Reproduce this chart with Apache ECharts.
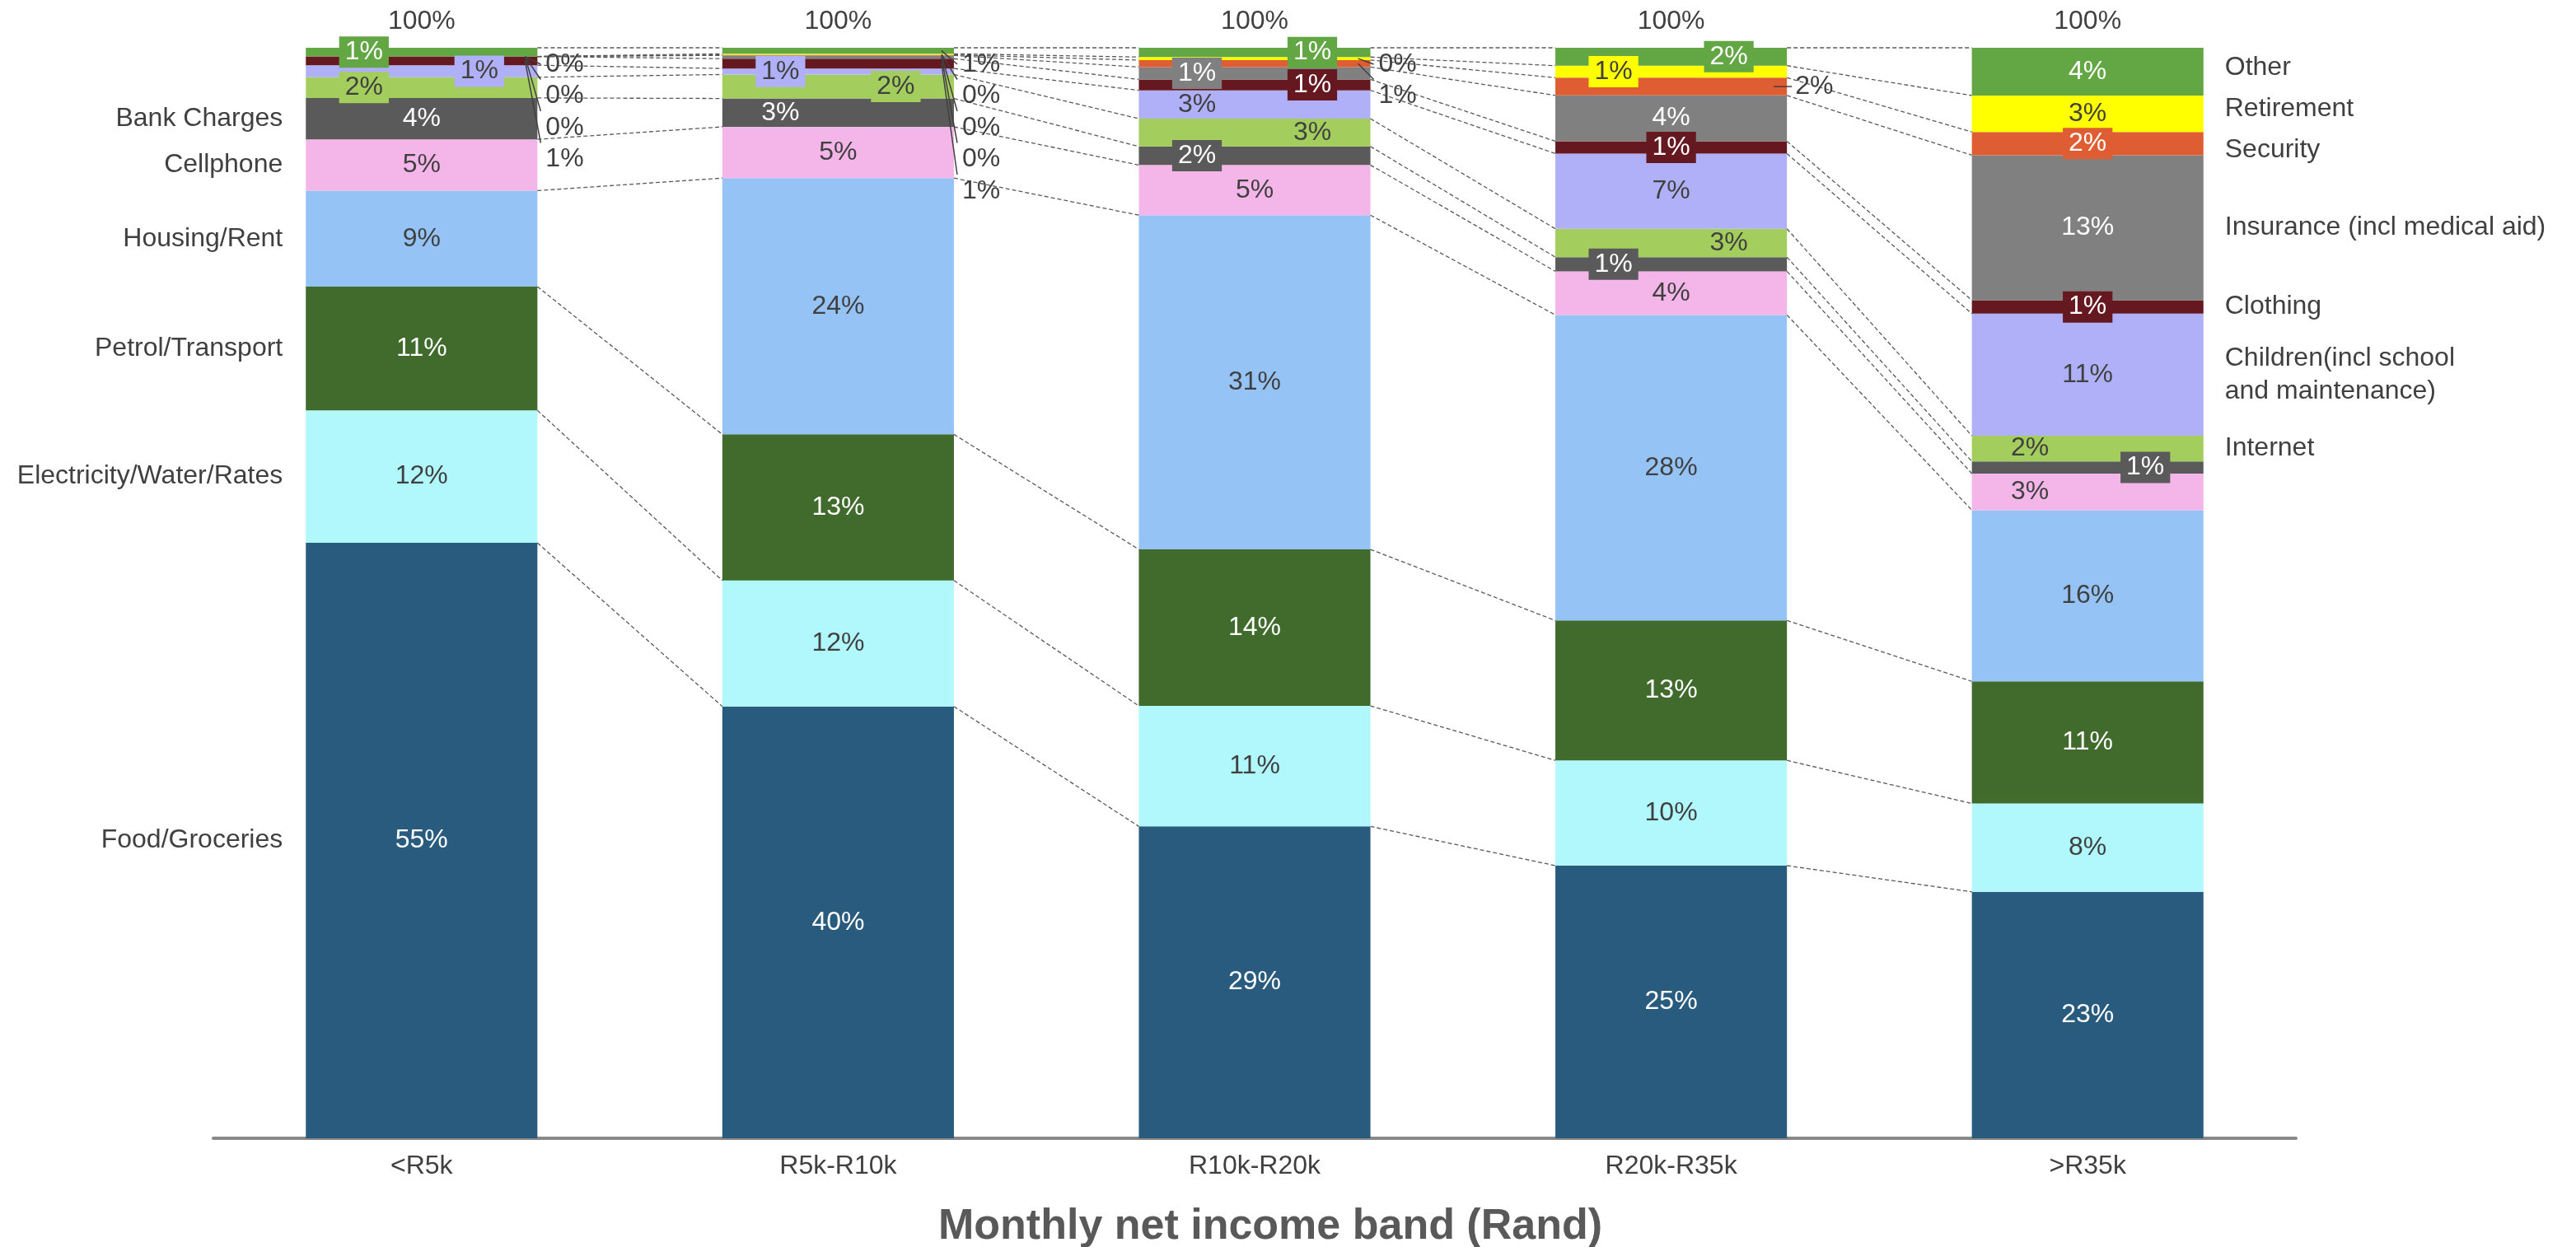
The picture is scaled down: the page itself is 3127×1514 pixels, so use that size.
<!DOCTYPE html>
<html><head><meta charset="utf-8">
<script src="https://cdn.jsdelivr.net/npm/echarts@6/dist/echarts.min.js"></script>
<style>html,body{margin:0;padding:0;background:#fff}#c{width:3127px;height:1514px}</style>
</head><body><div id="c"></div>
<script>
// ---------- data ----------
const categories = ['<R5k', 'R5k-R10k', 'R10k-R20k', 'R20k-R35k', '>R35k'];
const seriesNames = ['Food/Groceries', 'Electricity/Water/Rates', 'Petrol/Transport', 'Housing/Rent',
  'Cellphone', 'Bank Charges', 'Internet', 'Children(incl school\nand maintenance)', 'Clothing',
  'Insurance (incl medical aid)', 'Security', 'Retirement', 'Other'];
const food        = [54.6, 39.6, 28.6, 25.0, 22.6];
const electricity = [12.15, 11.55, 11.05, 9.65, 8.1];
const petrol      = [11.35, 13.4, 14.35, 12.83, 11.2];
const housing     = [8.8, 23.5, 30.65, 28.02, 15.7];
const cellphone   = [4.7, 4.7, 4.6, 4.0, 3.35];
const bankCharges = [3.8, 2.6, 1.7, 1.3, 1.12];
const internet    = [1.9, 2.2, 2.55, 2.6, 2.35];
const children    = [1.1, 0.55, 2.6, 6.9, 11.2];
const clothing    = [0.8, 0.9, 1.0, 1.13, 1.23];
const insurance   = [0, 0.3, 1.13, 4.2, 13.3];
const security    = [0, 0.05, 0.64, 1.63, 2.13];
const retirement  = [0, 0.1, 0.28, 1.1, 3.34];
const other       = [0.8, 0.55, 0.85, 1.64, 4.38];
const seriesData = [food, electricity, petrol, housing, cellphone, bankCharges, internet,
  children, clothing, insurance, security, retirement, other];

// ---------- styles ----------
const colors = ['#295b7e', '#b0f8fb', '#416b2c', '#95c3f6', '#f4b5e8', '#5a5a5a', '#a3cd5d',
  '#b0b0f9', '#651820', '#808080', '#df5d32', '#ffff00', '#63a744'];
const whiteText = [true, false, true, false, false, true, false, false, true, true, true, false, true];
const DARK = '#404040';
const FONT = '"Liberation Sans", Arial, sans-serif';
const FS = 32;
const BAR_FRAC = 0.556;
const SHIFT = 70;
// label placement: c center, l/r shifted, b = boxed, o = outside with leader line
const place = [
  ['c', 'c', 'c', 'c', 'c'],
  ['c', 'c', 'c', 'c', 'c'],
  ['c', 'c', 'c', 'c', 'c'],
  ['c', 'c', 'c', 'c', 'c'],
  ['c', 'c', 'c', 'c', 'l'],
  ['c', 'l', 'lb', 'lb', 'rb'],
  ['lb', 'rb', 'r', 'r', 'l'],
  ['rb', 'lb', 'l', 'c', 'c'],
  ['o', 'o', 'rb', 'cb', 'cb'],
  ['o', 'o', 'lb', 'c', 'c'],
  ['o', 'o', 'o', 'o', 'cb'],
  ['o', 'o', 'o', 'lb', 'c'],
  ['lb', 'o', 'rb', 'rb', 'c']
];
const outside = [
  {c: 0, s: 11, slot: 0}, {c: 0, s: 10, slot: 1}, {c: 0, s: 9, slot: 2}, {c: 0, s: 8, slot: 3},
  {c: 1, s: 12, slot: 0}, {c: 1, s: 11, slot: 1}, {c: 1, s: 10, slot: 2}, {c: 1, s: 9, slot: 3}, {c: 1, s: 8, slot: 4},
  {c: 2, s: 11, slot: 0}, {c: 2, s: 10, slot: 1},
  {c: 3, s: 10, slot: -1}
];
const nameDy = {12: -5, 11: -6, 10: 8};

const nS = seriesData.length, nC = categories.length;
const cum = seriesData.map((_, s) => categories.map((_, i) => {
  let t = 0; for (let k = 0; k <= s; k++) t += seriesData[k][i]; return t;
}));
const totals = categories.map((_, i) => cum[nS - 1][i]);
const pct = v => Math.round(v) + '%';
const mid = (s, i) => cum[s][i] - seriesData[s][i] / 2;

function labelFor(s, i) {
  const p = place[s][i];
  if (p === 'o') return {show: false};
  const dx = p[0] === 'l' ? -SHIFT : (p[0] === 'r' ? SHIFT : 0);
  const cfg = {show: true, position: 'inside', offset: [dx, 0], color: whiteText[s] ? '#ffffff' : DARK};
  if (p.length > 1) { cfg.backgroundColor = colors[s]; cfg.padding = [4, 7, 2, 7]; }
  return cfg;
}

const barSeries = seriesData.map((d, s) => ({
  name: seriesNames[s], type: 'bar', stack: 'total', barWidth: (BAR_FRAC * 100) + '%',
  itemStyle: {color: colors[s]},
  label: {show: true, formatter: p => pct(p.value), fontFamily: FONT, fontSize: FS},
  data: d.map((v, i) => ({value: v, label: labelFor(s, i)})),
  animation: false, z: 2
}));

// annotations
const ann = [];
for (let i = 0; i < nC - 1; i++) for (let s = 0; s < nS; s++) ann.push({k: 'line', i, s});
for (let s = 0; s < 6; s++) ann.push({k: 'nameL', i: 0, s});
for (let s = 6; s < nS; s++) ann.push({k: 'nameR', i: nC - 1, s});
for (let i = 0; i < nC; i++) ann.push({k: 'total', i});
outside.forEach(o => ann.push({k: 'out', i: o.c, s: o.s, slot: o.slot}));

function renderAnn(params, api) {
  const a = ann[params.dataIndex];
  const band = api.size([1, 0])[0];
  const hw = band * BAR_FRAC / 2;
  if (a.k === 'line') {
    const p0 = api.coord([a.i, cum[a.s][a.i]]), p1 = api.coord([a.i + 1, cum[a.s][a.i + 1]]);
    return {type: 'line', silent: true,
      shape: {x1: p0[0] + hw, y1: p0[1], x2: p1[0] - hw, y2: p1[1]},
      style: {stroke: '#595959', lineWidth: 1.3, lineDash: [5, 3]}};
  }
  if (a.k === 'nameL' || a.k === 'nameR') {
    const p = api.coord([a.i, mid(a.s, a.i)]);
    const left = a.k === 'nameL';
    return {type: 'text', silent: true,
      x: left ? p[0] - hw - 28 : p[0] + hw + 26, y: p[1] + (nameDy[a.s] || 0),
      style: {text: seriesNames[a.s], fill: DARK, fontSize: FS, fontFamily: FONT,
        align: left ? 'right' : 'left', verticalAlign: 'middle', lineHeight: 40}};
  }
  if (a.k === 'total') {
    const p = api.coord([a.i, totals[a.i]]);
    return {type: 'text', silent: true, x: p[0], y: p[1] - 32,
      style: {text: pct(totals[a.i]), fill: DARK, fontSize: FS, fontFamily: FONT,
        align: 'center', verticalAlign: 'middle'}};
  }
  // outside label with leader
  const xr = api.coord([a.i, 0])[0] + hw;
  const yTop = api.coord([a.i, totals[a.i]])[1];
  const ySeg = api.coord([a.i, mid(a.s, a.i)])[1];
  let yL, pts;
  if (a.slot < 0) { yL = ySeg; pts = [[xr - 16, ySeg], [xr + 6, ySeg]]; }
  else {
    yL = yTop + 20 + 38.5 * a.slot;
    const ye = a.slot === 0 ? yL : yL - 20;
    pts = [[xr - 15, ySeg], [xr + 4, ye]];
  }
  return {type: 'group', silent: true, children: [
    {type: 'polyline', shape: {points: pts}, style: {stroke: '#404040', lineWidth: 1.5, fill: null}},
    {type: 'text', x: xr + 10, y: yL,
      style: {text: pct(seriesData[a.s][a.i]), fill: DARK, fontSize: FS, fontFamily: FONT,
        align: 'left', verticalAlign: 'middle'}}
  ]};
}

const chart = echarts.init(document.getElementById('c'), null, {renderer: 'canvas'});
chart.setOption({
  backgroundColor: '#ffffff',
  animation: false,
  grid: {left: 259, right: 340, top: 58, bottom: 132, containLabel: false, outerBoundsMode: 'none'},
  xAxis: {
    type: 'category', data: categories,
    axisLine: {lineStyle: {color: '#898989', width: 4}},
    axisTick: {show: false},
    axisLabel: {color: DARK, fontSize: FS, fontFamily: FONT, margin: 18},
    name: 'Monthly net income band (Rand)', nameLocation: 'middle', nameGap: 82,
    nameTextStyle: {color: '#595959', fontSize: 52, fontWeight: 'bold', fontFamily: FONT, padding: [0, 0, 0, 38]}
  },
  yAxis: {type: 'value', min: 0, max: 100, show: false, splitLine: {show: false}},
  series: barSeries.concat([{
    type: 'custom', name: 'annotations', renderItem: renderAnn, z: 3, silent: true,
    data: ann.map(a => [a.i, 0]), animation: false
  }])
});
</script>
</body></html>
